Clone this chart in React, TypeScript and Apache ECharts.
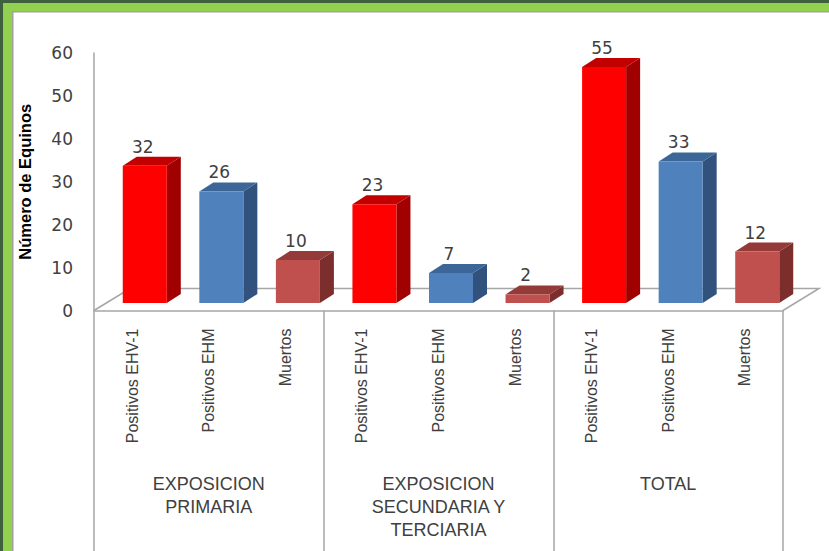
import React, { useEffect, useRef } from "react";
import * as echarts from "echarts";

const groups = ["EXPOSICION\nPRIMARIA", "EXPOSICION\nSECUNDARIA Y\nTERCIARIA", "TOTAL"];
const types = ["Positivos EHV-1", "Positivos EHM", "Muertos"];
const positivosEHV1 = [32, 23, 55];
const positivosEHM = [26, 7, 33];
const muertos = [10, 2, 12];
const yMin = 0;
const yMax = 60;
const yStep = 10;

const seriesValues = [positivosEHV1, positivosEHM, muertos];
const faceColors = [
  { front: "#ff0000", side: "#a00000", top: "#c20000" },
  { front: "#4f81bd", side: "#31527c", top: "#3c6698" },
  { front: "#c0504d", side: "#7b2e2c", top: "#943b39" },
];

// layout (front plane of the 3D floor)
const FL = 94;
const FR = 783;
const FT = 53;
const FB = 310.5;
const W = 829;
const H = 551;
// full floor depth and bar plane offset
const DEPTH_X = 36;
const DEPTH_Y = 22;
const PLANE_X = 12.5;
const PLANE_Y = 7.5;
// bar depth
const BDX = 14;
const BDY = 9;

const catLabels = groups.flatMap(() => types);

export default function App() {
  const ref = useRef<HTMLDivElement>(null);
  useEffect(() => {
    if (!ref.current) return;
    const chart = echarts.init(ref.current, undefined, { renderer: "svg" });
    const gray = "#a6a6a6";
    const textColor = "#404040";

    const series = types.map((t, ti) => ({
      type: "custom" as const,
      name: t,
      xAxisIndex: 2,
      yAxisIndex: 1,
      z: 5,
      encode: { x: 0, y: 1 },
      data: seriesValues[ti].map((v, g) => [g * 3 + ti, v]),
      renderItem: (params: any, api: any) => {
        const idx = api.value(0);
        const v = api.value(1);
        const base = api.coord([idx, 0]);
        const top = api.coord([idx, v]);
        const bw = api.size([1, 0])[0] * 0.575;
        const x0 = base[0] - bw / 2;
        const x1 = base[0] + bw / 2;
        const yb = base[1];
        const yt = top[1];
        const c = faceColors[ti];
        return {
          type: "group",
          children: [
            {
              type: "polygon",
              shape: { points: [[x1, yt], [x1 + BDX, yt - BDY], [x1 + BDX, yb - BDY], [x1, yb]] },
              style: { fill: c.side },
            },
            {
              type: "polygon",
              shape: { points: [[x0, yt], [x0 + BDX, yt - BDY], [x1 + BDX, yt - BDY], [x1, yt]] },
              style: { fill: c.top },
            },
            {
              type: "rect",
              shape: { x: x0, y: yt, width: bw, height: yb - yt },
              style: { fill: c.front },
            },
            {
              type: "text",
              x: base[0] - 2,
              y: yt - 19,
              style: {
                text: String(v),
                textAlign: "center",
                textVerticalAlign: "middle",
                fill: textColor,
                font: '17px "DejaVu Sans"',
              },
            },
          ],
        };
      },
    }));

    chart.setOption({
      animation: false,
      backgroundColor: "#ffffff",
      grid: [
        { left: FL, top: FT, width: FR - FL, height: FB - FT },
        { left: FL + PLANE_X, top: FT - PLANE_Y, width: FR - FL, height: FB - FT },
      ],
      xAxis: [
        {
          gridIndex: 0,
          type: "category",
          data: catLabels,
          position: "bottom",
          offset: 0,
          axisLine: { show: true, onZero: false, lineStyle: { color: gray, width: 1.5 } },
          axisTick: { show: false },
          axisLabel: {
            interval: 0,
            rotate: 90,
            margin: 18,
            color: textColor,
            fontFamily: "Liberation Sans",
            fontSize: 16,
          },
        },
        {
          gridIndex: 0,
          type: "category",
          data: groups,
          position: "bottom",
          offset: 0,
          axisLine: { show: false, onZero: false },
          axisTick: { show: true, interval: 0, length: H - FB, lineStyle: { color: gray, width: 1.5 } },
          axisLabel: {
            interval: 0,
            margin: 162,
            color: textColor,
            fontFamily: "Liberation Sans",
            fontSize: 18,
            lineHeight: 23,
            align: "center",
          },
        },
        {
          gridIndex: 1,
          type: "category",
          data: catLabels,
          show: false,
        },
      ],
      yAxis: [
        {
          gridIndex: 0,
          type: "value",
          min: yMin,
          max: yMax,
          interval: yStep,
          name: "Número de Equinos",
          nameLocation: "middle",
          nameRotate: 90,
          nameGap: 61,
          nameTextStyle: {
            fontFamily: "Liberation Sans",
            fontWeight: "bold",
            fontSize: 16.5,
            color: "#000000",
          },
          axisLine: { show: true, lineStyle: { color: gray, width: 1.5 } },
          axisTick: { show: false },
          splitLine: { show: false },
          axisLabel: {
            margin: 21,
            color: textColor,
            fontFamily: "DejaVu Sans",
            fontSize: 17,
          },
        },
        {
          gridIndex: 1,
          type: "value",
          min: yMin,
          max: yMax,
          interval: yStep,
          show: false,
          splitLine: { show: false },
        },
      ],
      graphic: [
        // floor outline
        {
          type: "polyline",
          z: 0,
          silent: true,
          shape: {
            points: [
              [FL, FB],
              [FL + DEPTH_X, FB - DEPTH_Y],
              [FR + DEPTH_X, FB - DEPTH_Y],
              [FR, FB],
            ],
          },
          style: { stroke: gray, lineWidth: 1.5, fill: null },
        },
        // frame
        { type: "rect", z: 100, silent: true, shape: { x: 0, y: 0, width: W, height: 3 }, style: { fill: "#3f5f3f" } },
        { type: "rect", z: 100, silent: true, shape: { x: 0, y: 0, width: 3, height: H }, style: { fill: "#3f5f3f" } },
        { type: "rect", z: 100, silent: true, shape: { x: 3, y: 3, width: W - 3, height: 8 }, style: { fill: "#92d050" } },
        { type: "rect", z: 100, silent: true, shape: { x: 3, y: 3, width: 9, height: H - 3 }, style: { fill: "#92d050" } },
        { type: "line", z: 100, silent: true, shape: { x1: 12, y1: 11.75, x2: W, y2: 11.75 }, style: { stroke: "#a0a0a0", lineWidth: 1.5 } },
        { type: "line", z: 100, silent: true, shape: { x1: 12.75, y1: 11, x2: 12.75, y2: H }, style: { stroke: "#a0a0a0", lineWidth: 1.5 } },
      ],
      series,
    });
    return () => chart.dispose();
  }, []);

  return (
    <div
      ref={ref}
      style={{ position: "absolute", left: 0, top: 0, width: W, height: H, background: "#ffffff" }}
    />
  );
}
